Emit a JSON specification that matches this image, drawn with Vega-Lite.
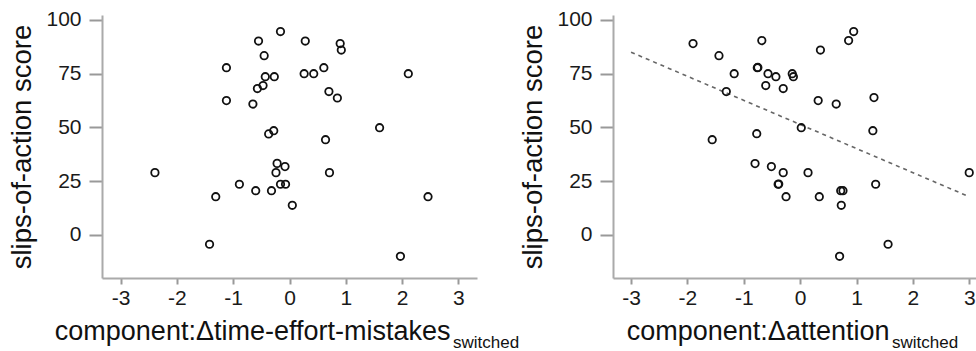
{
  "$schema": "https://vega.github.io/schema/vega-lite/v6.json",
  "background": "white",
  "padding": {"left": 8, "top": 8, "right": 0, "bottom": 0},
  "bounds": "flush",
  "spacing": 136,
  "config": {
    "view": {"stroke": null},
    "font": "Liberation Sans",
    "axis": {
      "grid": false,
      "domainColor": "#aaaaaa",
      "domainWidth": 2,
      "tickColor": "#999999",
      "tickWidth": 2,
      "labelFont": "Liberation Sans",
      "labelFontSize": 21,
      "labelColor": "#1a1a1a",
      "labelExpr": "toString(datum.value)",
      "titleFont": "Liberation Sans",
      "titleFontWeight": "normal",
      "titleColor": "#111111"
    },
    "axisX": {"tickSize": 6, "labelPadding": 3},
    "axisY": {"tickSize": 13, "labelPadding": 8, "titleFontSize": 27.5, "titlePadding": 9},
    "title": {"font": "Liberation Sans", "fontWeight": "normal", "color": "#111111"}
  },
  "datasets": {
    "left": [
      {"x": -2.39, "y": 29.0}, {"x": -1.31, "y": 17.8}, {"x": -1.42, "y": -4.3}, {"x": -1.12, "y": 77.8},
      {"x": -1.12, "y": 62.5}, {"x": -0.89, "y": 23.6}, {"x": -0.65, "y": 60.9}, {"x": -0.60, "y": 20.6},
      {"x": -0.55, "y": 90.2}, {"x": -0.57, "y": 68.1}, {"x": -0.45, "y": 83.4}, {"x": -0.43, "y": 73.6},
      {"x": -0.47, "y": 69.5}, {"x": -0.27, "y": 73.6}, {"x": -0.37, "y": 47.0}, {"x": -0.28, "y": 48.5},
      {"x": -0.32, "y": 20.6}, {"x": -0.22, "y": 33.3}, {"x": -0.24, "y": 29.0}, {"x": -0.16, "y": 23.6},
      {"x": -0.07, "y": 23.6}, {"x": -0.08, "y": 31.8}, {"x": -0.16, "y": 94.6}, {"x": 0.05, "y": 13.8},
      {"x": 0.28, "y": 90.2}, {"x": 0.26, "y": 75.0}, {"x": 0.43, "y": 75.0}, {"x": 0.61, "y": 77.8},
      {"x": 0.70, "y": 66.7}, {"x": 0.85, "y": 63.7}, {"x": 0.90, "y": 89.0}, {"x": 0.92, "y": 86.0},
      {"x": 0.64, "y": 44.3}, {"x": 0.71, "y": 29.0}, {"x": 1.60, "y": 49.9}, {"x": 2.11, "y": 75.0},
      {"x": 2.46, "y": 17.8}, {"x": 1.97, "y": -9.9}
    ],
    "right": [
      {"x": -1.90, "y": 89.0}, {"x": -1.44, "y": 83.4}, {"x": -1.17, "y": 75.0}, {"x": -1.31, "y": 66.7},
      {"x": -1.56, "y": 44.3}, {"x": -0.68, "y": 90.4}, {"x": -0.76, "y": 77.8}, {"x": -0.75, "y": 77.9},
      {"x": -0.57, "y": 75.0}, {"x": -0.43, "y": 73.6}, {"x": -0.61, "y": 69.5}, {"x": -0.30, "y": 68.1},
      {"x": -0.14, "y": 75.0}, {"x": -0.12, "y": 73.6}, {"x": -0.77, "y": 47.1}, {"x": -0.80, "y": 33.2},
      {"x": -0.51, "y": 31.8}, {"x": -0.30, "y": 29.0}, {"x": -0.39, "y": 23.6}, {"x": -0.38, "y": 23.7},
      {"x": -0.25, "y": 17.8}, {"x": 0.02, "y": 49.9}, {"x": 0.14, "y": 29.0}, {"x": 0.32, "y": 62.5},
      {"x": 0.36, "y": 86.0}, {"x": 0.34, "y": 17.8}, {"x": 0.64, "y": 60.9}, {"x": 0.86, "y": 90.4},
      {"x": 0.95, "y": 94.6}, {"x": 0.72, "y": 20.6}, {"x": 0.76, "y": 20.6}, {"x": 0.73, "y": 13.8},
      {"x": 0.70, "y": -9.9}, {"x": 1.31, "y": 63.9}, {"x": 1.29, "y": 48.5}, {"x": 1.34, "y": 23.6},
      {"x": 1.56, "y": -4.3}, {"x": 3.00, "y": 29.0}
    ],
    "fit": [
      {"x": -3.0, "y": 85.0}, {"x": 3.0, "y": 17.8}
    ]
  },
  "hconcat": [
    {
      "width": 375,
      "height": 263,
      "title": {"text": "switched", "orient": "bottom", "anchor": "start", "frame": "group", "align": "left", "baseline": "alphabetic", "dx": 351, "offset": 4, "fontSize": 17},
      "data": {"name": "left"},
      "mark": {"type": "point", "shape": "circle", "filled": false, "stroke": "#111111", "strokeWidth": 1.8, "size": 55, "opacity": 1},
      "encoding": {
        "x": {"field": "x", "type": "quantitative", "scale": {"domain": [-3.33, 3.33], "nice": false, "zero": false},
              "axis": {"values": [-3, -2, -1, 0, 1, 2, 3], "title": "component:Δtime-effort-mistakes", "titleFontSize": 27, "titleX": 348, "titleY": 61, "titleAlign": "right", "titleBaseline": "alphabetic"}},
        "y": {"field": "y", "type": "quantitative", "scale": {"domain": [-20, 102.3], "nice": false, "zero": false},
              "axis": {"values": [0, 25, 50, 75, 100], "title": "slips-of-action score"}}
      }
    },
    {
      "width": 363,
      "height": 263,
      "title": {"text": "switched", "orient": "bottom", "anchor": "start", "frame": "group", "align": "left", "baseline": "alphabetic", "dx": 279, "offset": 4, "fontSize": 17},
      "layer": [
        {
          "data": {"name": "fit"},
          "mark": {"type": "line", "stroke": "#666666", "strokeWidth": 1.6, "strokeDash": [4, 4]},
          "encoding": {
            "x": {"field": "x", "type": "quantitative"},
            "y": {"field": "y", "type": "quantitative"}
          }
        },
        {
          "data": {"name": "right"},
          "mark": {"type": "point", "shape": "circle", "filled": false, "stroke": "#111111", "strokeWidth": 1.8, "size": 55, "opacity": 1},
          "encoding": {
            "x": {"field": "x", "type": "quantitative"},
            "y": {"field": "y", "type": "quantitative"}
          }
        }
      ],
      "encoding": {
        "x": {"field": "x", "type": "quantitative", "scale": {"domain": [-3.32, 3.12], "nice": false, "zero": false},
              "axis": {"values": [-3, -2, -1, 0, 1, 2, 3], "title": "component:Δattention", "titleFontSize": 27, "titleX": 276, "titleY": 61, "titleAlign": "right", "titleBaseline": "alphabetic"}},
        "y": {"field": "y", "type": "quantitative", "scale": {"domain": [-20, 102.3], "nice": false, "zero": false},
              "axis": {"values": [0, 25, 50, 75, 100], "title": "slips-of-action score"}}
      }
    }
  ]
}
